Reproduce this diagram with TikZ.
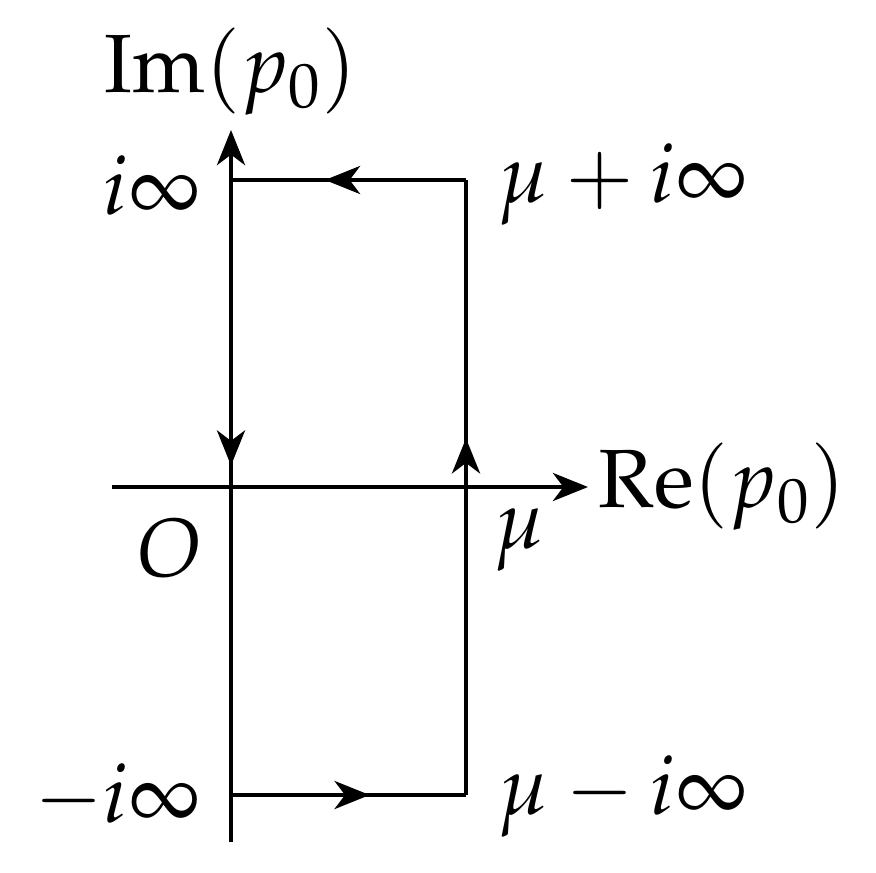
\documentclass[tikz,border=0pt]{standalone}
\usepackage{mathpazo}
\usetikzlibrary{arrows.meta,decorations.markings}
\begin{document}
\begin{tikzpicture}[x=0.01cm,y=-0.01cm,line width=1.1pt,
  lbl/.style={font=\fontsize{23.5}{28}\selectfont,inner sep=0pt},
  tip/.style={-{Stealth[length=10pt,width=8pt,inset=3pt]}},
  mark/.style={postaction={decorate},decoration={markings,mark=at position #1 with {\arrow{Stealth[length=10pt,width=8pt,inset=3pt]}}}}]
\useasboundingbox (0,0) rectangle (876,873);
\coordinate (vb) at (231,842); \coordinate (vt) at (231,130);
\coordinate (hl) at (112,487); \coordinate (hr) at (588,487);
\coordinate (A) at (231,180); \coordinate (B) at (466,180);
\coordinate (C) at (466,795); \coordinate (D) at (231,795);
\coordinate (O0) at (231,487);
\draw[tip] (vb) -- (vt);
\draw[tip] (hl) -- (hr);
\draw[mark=0.59] (D) -- (C);
\draw[mark=0.58] (C) -- (B);
\draw[mark=0.6] (B) -- (A);
\draw[mark=0.93] (A) -- (O0);
\node[lbl] (im) at (231,72) {$\mathrm{Im}(p_0)$};
\node[lbl,anchor=east] (ii) at (203,185) {$i\infty$};
\node[lbl,anchor=west] (mpi) at (497,185) {$\mu+i\infty$};
\node[lbl,anchor=west] (re) at (597,487) {$\mathrm{Re}(p_0)$};
\node[lbl] (o) at (170,548) {$O$};
\node[lbl] (mu) at (520,540) {$\mu$};
\node[lbl,anchor=east] (mi) at (203,797) {$-i\infty$};
\node[lbl,anchor=west] (mmi) at (497,797) {$\mu-i\infty$};
\end{tikzpicture}
\end{document}
